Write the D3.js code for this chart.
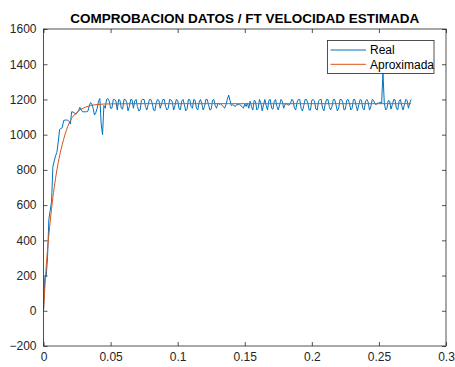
<!DOCTYPE html>
<html>
<head>
<meta charset="utf-8">
<script src="https://cdn.jsdelivr.net/npm/d3@7"></script>
<style>
	body { margin: 0; background: #fff; }
	svg { display: block; font-family: "Liberation Sans", Arial, Helvetica, sans-serif; }
</style>
</head>
<body>
<div id="chart"></div>
<script>
// sample time of the measured signal (s)
const sampleStep = 0.001;

// measured speed, one value per sample, starting at t = 0
const realValues = [
	0, 190, 195, 300, 520, 570, 620, 820, 850, 880,
	900, 960, 1030, 1035, 1040, 1080, 1083, 1083, 1083, 1075,
	1060, 1130, 1128, 1125, 1115, 1125, 1132, 1155, 1145, 1130,
	1130, 1130, 1130, 1132, 1160, 1182, 1175, 1150, 1112, 1125,
	1150, 1190, 1205, 1060, 1000, 1165, 1150, 1200, 1205, 1190,
	1150,
	1150, 1200, 1200, 1190, 1140, 1200, 1195,
	1150, 1145, 1200, 1200, 1185, 1135, 1160,
	1200, 1198, 1150, 1190, 1200, 1160, 1135,
	1140, 1195, 1200, 1200, 1160, 1140, 1170,
	1200, 1200, 1180, 1140, 1135, 1180, 1200,
	1195, 1150, 1175, 1200, 1200, 1160, 1140,
	1150, 1200, 1198, 1185, 1140, 1165, 1200,
	1195, 1150, 1140, 1190, 1200, 1170, 1135,
	1145, 1200, 1200, 1160, 1150, 1200, 1195,
	1150, 1140, 1185, 1200, 1175, 1140, 1160,
	1200, 1200, 1170, 1140, 1145, 1195, 1200,
	1165, 1150, 1180, 1172, 1175, 1168, 1160,
	1150, 1170, 1200, 1225, 1195, 1165, 1170,
	1165, 1160, 1172, 1168, 1175, 1165, 1160,
	1150, 1175, 1160, 1180, 1150, 1190, 1160,
	1140, 1195, 1190, 1140, 1150, 1200, 1180,
	1135, 1170, 1200, 1165, 1140, 1195, 1200,
	1150, 1145, 1190, 1200, 1160, 1140, 1170,
	1200, 1190, 1150, 1172, 1175, 1170, 1168,
	1175, 1200, 1195, 1150, 1140, 1185, 1200,
	1200, 1150, 1135, 1165, 1200, 1200, 1180,
	1140, 1140, 1195, 1200, 1190, 1145, 1140,
	1190, 1200, 1200, 1150, 1135, 1175, 1200,
	1200, 1160, 1140, 1160, 1200, 1200, 1170,
	1135, 1150, 1200, 1200, 1185, 1140, 1145,
	1195, 1200, 1180, 1140, 1150, 1200, 1200,
	1165, 1135, 1170, 1200, 1195, 1150, 1140,
	1190, 1200, 1185, 1140, 1160, 1200, 1195,
	1175, 1170, 1180, 1178, 1185, 1175, 1350,
	1180, 1140, 1150, 1195, 1190, 1145, 1170,
	1200, 1198, 1150, 1140, 1190, 1200, 1165,
	1140, 1170, 1200, 1195, 1150, 1180, 1200
];

// estimated transfer function response
const approxTime = [0, 0.002, 0.004, 0.006, 0.008, 0.010, 0.012, 0.014, 0.016, 0.018, 0.020, 0.023, 0.026, 0.030, 0.035, 0.040, 0.050, 0.070, 0.274];
const approxValues = [0, 250, 430, 580, 700, 800, 880, 945, 1000, 1045, 1080, 1112, 1135, 1152, 1165, 1171, 1175, 1176, 1176];

const xTicks = [0, 0.05, 0.1, 0.15, 0.2, 0.25, 0.3];
const yTicks = [-200, 0, 200, 400, 600, 800, 1000, 1200, 1400, 1600];

const seriesNames = ["Real", "Aproximada"];
const seriesColors = ["#0072BD", "#D95319"];
const title = "COMPROBACION DATOS / FT VELOCIDAD ESTIMADA";

const width = 455,
	height = 367;
const margin = { top: 29, right: 9, bottom: 21, left: 43.5 };

const svg = d3
	.select("#chart")
	.append("svg")
	.attr("width", width)
	.attr("height", height);

svg.append("rect").attr("width", width).attr("height", height).attr("fill", "#fff");

const x = d3
	.scaleLinear()
	.domain([0, 0.3])
	.range([margin.left, width - margin.right]);
const y = d3
	.scaleLinear()
	.domain([-200, 1600])
	.range([height - margin.bottom, margin.top]);

const axisColor = "#262626";

svg.append("clipPath")
	.attr("id", "plot-clip")
	.append("rect")
	.attr("x", x(0))
	.attr("y", y(1600))
	.attr("width", x(0.3) - x(0))
	.attr("height", y(-200) - y(1600));

const realData = realValues.map((v, i) => ({ t: i * sampleStep, v: v }));
const approxData = approxTime.map((t, i) => ({ t: t, v: approxValues[i] }));

const plot = svg.append("g").attr("clip-path", "url(#plot-clip)");

plot.append("path")
	.datum(realData)
	.attr("fill", "none")
	.attr("stroke", seriesColors[0])
	.attr("stroke-width", 1)
	.attr("stroke-linejoin", "round")
	.attr("d", d3.line().x((d) => x(d.t)).y((d) => y(d.v)));

plot.append("path")
	.datum(approxData)
	.attr("fill", "none")
	.attr("stroke", seriesColors[1])
	.attr("stroke-width", 1)
	.attr("d", d3.line().curve(d3.curveMonotoneX).x((d) => x(d.t)).y((d) => y(d.v)));

// axes, MATLAB style: ticks inside, mirrored on top and right
function styleAxis(g) {
	g.select(".domain").remove();
	g.selectAll(".tick line").attr("stroke", axisColor).attr("stroke-width", 0.8);
	g.selectAll(".tick text")
		.attr("fill", axisColor)
		.style("font-size", "12px")
		.style("font-family", '"Liberation Sans", Arial, sans-serif');
}

svg.append("g")
	.attr("transform", `translate(0,${y(-200)})`)
	.call(d3.axisBottom(x).tickValues(xTicks).tickFormat(d3.format("~g")).tickSizeInner(-4).tickPadding(6))
	.call(styleAxis);

svg.append("g")
	.attr("transform", `translate(0,${y(1600)})`)
	.call(d3.axisTop(x).tickValues(xTicks).tickFormat("").tickSizeInner(-4))
	.call(styleAxis);

svg.append("g")
	.attr("transform", `translate(${x(0)},0)`)
	.call(d3.axisLeft(y).tickValues(yTicks).tickFormat(d3.format("d")).tickSizeInner(-4).tickPadding(7))
	.call(styleAxis);

svg.append("g")
	.attr("transform", `translate(${x(0.3)},0)`)
	.call(d3.axisRight(y).tickValues(yTicks).tickFormat("").tickSizeInner(-4))
	.call(styleAxis);

svg.append("rect")
	.attr("x", x(0))
	.attr("y", y(1600))
	.attr("width", x(0.3) - x(0))
	.attr("height", y(-200) - y(1600))
	.attr("fill", "none")
	.attr("stroke", axisColor)
	.attr("stroke-width", 0.8);

svg.append("text")
	.attr("x", (x(0) + x(0.3)) / 2)
	.attr("y", 23)
	.attr("text-anchor", "middle")
	.attr("font-weight", "bold")
	.attr("font-size", "13.5px")
	.attr("fill", "#000")
	.text(title);

// legend
const legend = svg.append("g").attr("transform", "translate(327.5,40.5)");

legend.append("rect")
	.attr("width", 106.5)
	.attr("height", 33)
	.attr("fill", "#fff")
	.attr("stroke", axisColor)
	.attr("stroke-width", 0.8);

const entry = legend
	.selectAll("g.entry")
	.data(seriesNames)
	.enter()
	.append("g")
	.attr("class", "entry")
	.attr("transform", (d, i) => `translate(0,${9.5 + i * 14.3})`);

entry.append("line")
	.attr("x1", 3)
	.attr("x2", 38.5)
	.attr("stroke", (d, i) => seriesColors[i])
	.attr("stroke-width", 1);

entry.append("text")
	.attr("x", 42.5)
	.attr("dy", "0.35em")
	.attr("font-size", "12px")
	.attr("fill", "#000")
	.text((d) => d);
</script>
</body>
</html>
